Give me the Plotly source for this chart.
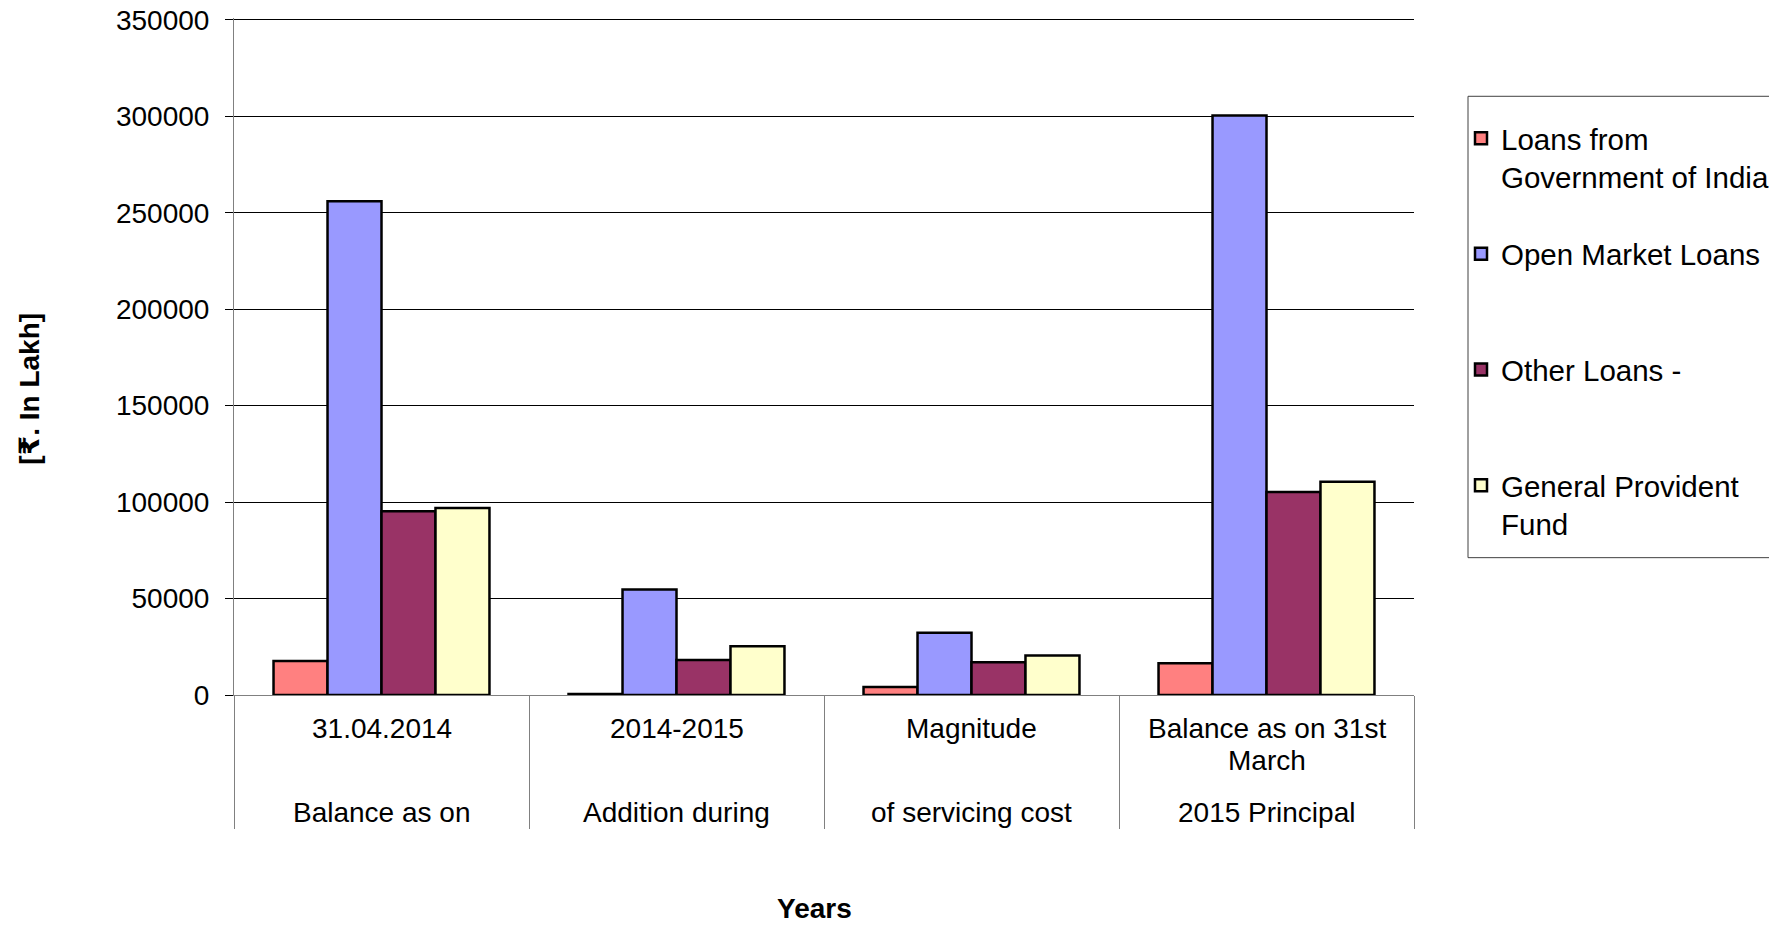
import plotly.graph_objects as go

# ---- data ----
categories = ["Balance as on 31.04.2014", "Addition during 2014-2015",
              "Magnitude of servicing cost", "Balance as on 31st March 2015 Principal"]
label_top = ["31.04.2014", "2014-2015", "Magnitude", "Balance as on 31st<br>March"]
label_bottom = ["Balance as on", "Addition during", "of servicing cost", "2015 Principal"]

series_names = ["Loans from<br>Government of India", "Open Market Loans",
                "Other Loans -", "General Provident<br>Fund"]
loans_goi = [17600, 500, 4100, 16400]
open_market = [256000, 54700, 32300, 300500]
other_loans = [95300, 18200, 17000, 105300]
gpf = [97000, 25300, 20500, 110600]
series_values = [loans_goi, open_market, other_loans, gpf]
series_colors = ["#FF8080", "#9999FF", "#993366", "#FFFFCC"]

y_ticks = [0, 50000, 100000, 150000, 200000, 250000, 300000, 350000]
y_max = 350000
y_range_top = 351000   # a little headroom so the top gridline is drawn fully

# ---- layout geometry (screen pixels; the page body adds an 8px offset) ----
SW, SH = 1777, 926
OFF = 8
W, H = SW - OFF, SH - OFF
ZERO_Y, TOP_Y = 694.7, 19.3          # screen y of 0 and of y_max
MB = round(SH - ZERO_Y)
plot_h_px = (ZERO_Y - TOP_Y) * y_range_top / y_max
MT = SH - MB - plot_h_px - OFF
ML, MR = 234 - OFF, 363
plot_w = W - ML - MR
plot_h = H - MT - MB
FONT = "Liberation Sans, Arial, DejaVu Sans, sans-serif"


def py(pix):
    """screen pixel y -> paper y"""
    return (SH - MB - pix) / plot_h


def px(pix):
    """screen pixel x -> paper x"""
    return (pix - OFF - ML) / plot_w


fig = go.Figure()
for name, vals, col in zip(series_names, series_values, series_colors):
    legend_name = name if "<br>" in name else name + "<br> "
    fig.add_trace(go.Bar(
        x=categories, y=vals, name=legend_name, legendgroup=name,
        marker=dict(color=col, line=dict(color="black", width=2.5)),
    ))

annotations = []
for cat, top, bottom in zip(categories, label_top, label_bottom):
    for i, line in enumerate(top.split("<br>")):
        annotations.append(dict(x=cat, xref="x", y=py(729 + i * 31.5), yref="paper",
                                text=line, showarrow=False, yanchor="middle",
                                font=dict(size=28, color="black", family=FONT)))
    annotations.append(dict(x=cat, xref="x", y=py(812.5), yref="paper",
                            text=bottom, showarrow=False, yanchor="middle",
                            font=dict(size=28, color="black", family=FONT)))

annotations.append(dict(x=px(814), xref="paper", y=py(909), yref="paper",
                        text="<b>Years</b>", showarrow=False, yanchor="middle",
                        font=dict(size=28, color="black", family=FONT)))
annotations.append(dict(x=px(29.5), xref="paper", y=py(389), yref="paper",
                        text="<b>[₹. In Lakh]</b>", showarrow=False, textangle=-90,
                        xanchor="center", yanchor="middle",
                        font=dict(size=28, color="black", family=FONT)))

# legend frame
shapes = [dict(type="rect", xref="paper", yref="paper",
               x0=px(1468), x1=px(1800), y0=py(557.6), y1=py(96),
               line=dict(color="#404040", width=1), fillcolor="white", layer="below")]

fig.update_layout(
    width=W, height=H,
    margin=dict(l=ML, r=MR, t=MT, b=MB, pad=0, autoexpand=False),
    paper_bgcolor="white", plot_bgcolor="white",
    barmode="group", bargap=0.268, bargroupgap=0,
    font=dict(family=FONT, size=28, color="black"),
    showlegend=True,
    legend=dict(
        xref="container", yref="container",
        x=(1461 - OFF) / W, xanchor="left",
        y=1 - (112.5 - OFF) / H, yanchor="top",
        borderwidth=0, bgcolor="rgba(0,0,0,0)",
        font=dict(size=29.5, family=FONT, color="black"),
        traceorder="grouped", tracegroupgap=36, valign="top",
    ),
    shapes=shapes,
    annotations=annotations,
    hovermode=False,
)

fig.update_xaxes(
    type="category", categoryorder="array", categoryarray=categories,
    showticklabels=False, showgrid=False, automargin=False,
    ticks="outside", tickson="boundaries", ticklen=133, tickwidth=1, tickcolor="#808080",
    showline=True, linecolor="#808080", linewidth=1,
    zeroline=False,
)
fig.update_yaxes(
    range=[0, y_range_top], tickvals=y_ticks, ticktext=[str(v) for v in y_ticks],
    showgrid=True, gridcolor="black", gridwidth=1, automargin=False,
    showline=True, linecolor="#808080", linewidth=1,
    ticks="outside", ticklen=8, tickcolor="black", tickwidth=1,
    ticklabelstandoff=10, ticklabeloverflow="allow",
    tickfont=dict(size=28, family=FONT, color="black"),
    zeroline=False,
)

fig.write_html("out.html")
